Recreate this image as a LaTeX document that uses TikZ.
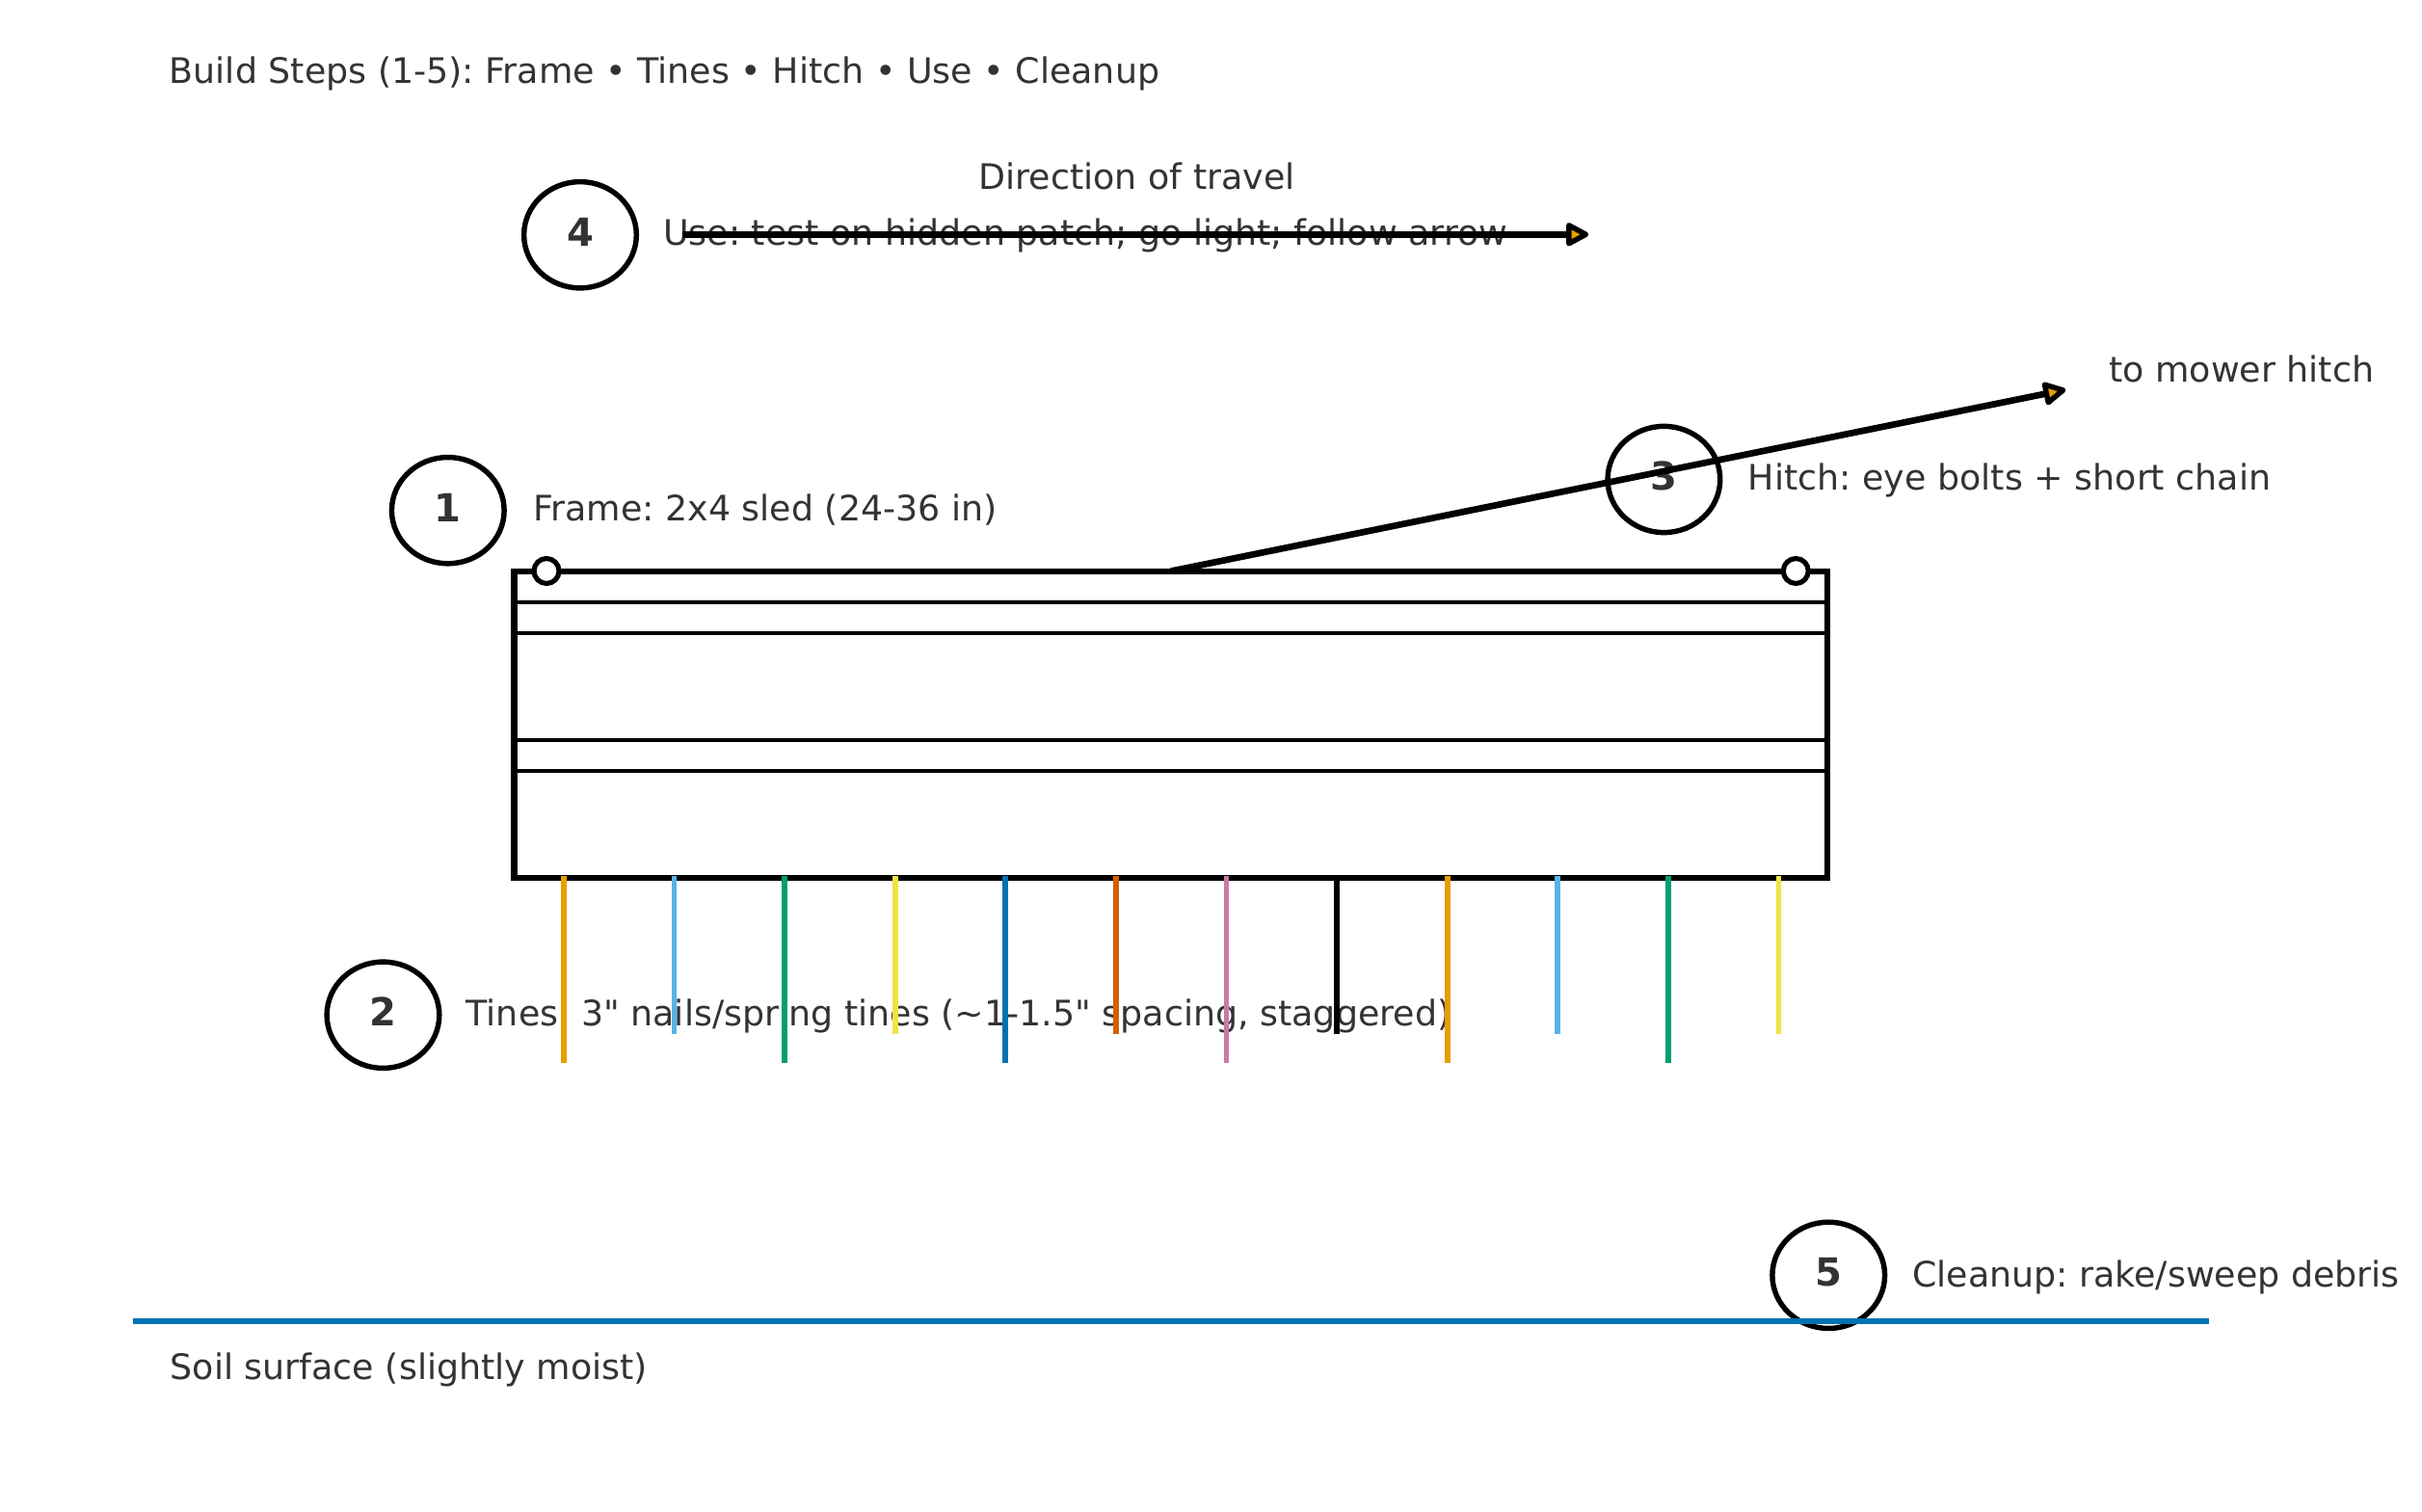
\documentclass[tikz,border=0pt]{standalone}
\usepackage{fontspec}
\setmainfont{DejaVu Sans}
\usetikzlibrary{shapes.geometric,arrows.meta}
\definecolor{txt}{HTML}{333333}
\definecolor{okorange}{HTML}{E69F00}
\definecolor{oksky}{HTML}{56B4E9}
\definecolor{okgreen}{HTML}{009E73}
\definecolor{okyellow}{HTML}{F0E442}
\definecolor{okblue}{HTML}{0072B2}
\definecolor{okverm}{HTML}{D55E00}
\definecolor{okpink}{HTML}{CC79A7}
\frenchspacing
\begin{document}
\begin{tikzpicture}[x=1pt,y=-1pt,
  lbl/.style={anchor=base west, inner sep=0pt, outer sep=0pt, text=txt, font=\fontsize{22.7}{27}\selectfont},
  stepcirc/.style={ellipse, draw=black, line width=3.4pt, minimum width=72.8pt, minimum height=68.8pt, inner sep=0pt, outer sep=0pt},
  num/.style={inner sep=0pt, text=txt, font=\fontsize{25}{30}\selectfont\bfseries},
  arr/.style={line width=4.2pt, -{Triangle[length=16.5pt,width=16.5pt,line width=3.4pt,fill=okorange,round]}},
  tine/.style={line width=3.6pt},
  rail/.style={line width=2.7pt},
  bolt/.style={circle, draw=black, fill=white, line width=3.2pt, minimum size=16.2pt, inner sep=0pt}]
\path[use as bounding box, fill=white] (0,0) rectangle (1568,978.4);

% texts
\node[lbl] (title) at (109.7,53.7) {Build Steps (1-5): Frame • Tines • Hitch • Use • Cleanup};
\node[lbl, anchor=base] (dir) at (736,122.7) {Direction of travel};
\node[lbl] (t4) at (429.4,159) {Use: test on hidden patch; go light; follow arrow};
\node[lbl] (t1) at (345.2,337.3) {Frame: 2x4 sled (24-36 in)};
\node[lbl] (t3) at (1131.8,317.2) {Hitch: eye bolts + short chain};
\node[lbl] (tomower) at (1365.4,247.7) {to mower hitch};
\node[lbl] (t2) at (301.8,664.5) {Tines: 3\textquotedbl{} nails/spring tines (\textasciitilde1-1.5\textquotedbl{} spacing, staggered)};
\node[lbl] (t5) at (1238,833) {Cleanup: rake/sweep debris};
\node[lbl] (soil) at (110.3,893.3) {Soil surface (slightly moist)};

% step circles
\node[stepcirc] (c4) at (375.6,152.1) {};
\node[stepcirc] (c1) at (290,330.5) {};
\node[stepcirc] (c3) at (1077.2,310.4) {};
\node[stepcirc] (c2) at (248,657.2) {};
\node[stepcirc] (c5) at (1183.8,825.7) {};
\foreach \c/\n in {c4/4,c1/1,c3/3,c2/2,c5/5}
  \node[num] (n\n) at ([yshift=2pt]\c.center) {\n};

% frame
\node[draw=black, line width=3.9pt, minimum width=850.4pt, minimum height=198.4pt,
      anchor=north west, inner sep=0pt, outer sep=0pt] (frame) at (332.8,369.8) {};
\foreach \yy in {390,410.1,479.4,499.2}
  \draw[rail] (332.8,\yy) -- (1183.2,\yy);
\node[bolt] (bolt1) at (353.8,369.7) {};
\node[bolt] (bolt2) at (1162.6,369.7) {};

% tines
\foreach \xx/\col/\yend in {365/okorange/688.4, 436.5/oksky/669.3, 508/okgreen/688.4,
    579.5/okyellow/669.3, 651/okblue/688.4, 722.5/okverm/669.3, 794/okpink/688.4,
    865.5/black/669.3, 937/okorange/688.4, 1008.5/oksky/669.3, 1080/okgreen/688.4,
    1151.5/okyellow/669.3}
  \draw[tine, draw=\col] (\xx,567) -- (\xx,\yend);

% arrows
\coordinate (a4s) at (442,151.8);
\coordinate (a4e) at (1028.4,151.8);
\draw[arr] (a4s) -- (a4e);
\coordinate (hitchend) at (1337.3,252.3);
\draw[arr] (frame.north) -- (hitchend);

% soil line
\coordinate (soilL) at (86,855.2);
\coordinate (soilR) at (1430,855.2);
\draw[okblue, line width=3.8pt] (soilL) -- (soilR);
\end{tikzpicture}
\end{document}
